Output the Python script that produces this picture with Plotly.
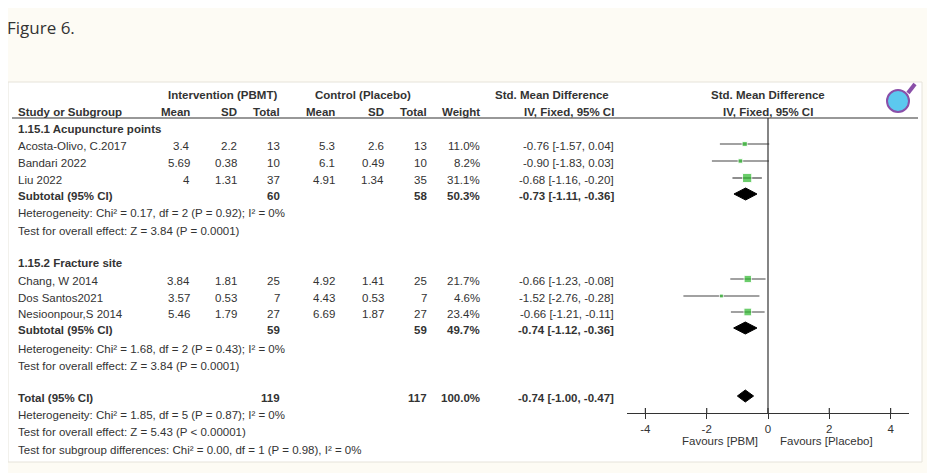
import plotly.graph_objects as go

W, H = 935, 473
OX, OY = 8, 8  # page body offset in the browser

# study rows
names = ["Acosta-Olivo, C.2017", "Bandari 2022", "Liu 2022",
         "Chang, W 2014", "Dos Santos2021", "Nesioonpour,S 2014"]
int_mean = ["3.4", "5.69", "4", "3.84", "3.57", "5.46"]
int_sd = ["2.2", "0.38", "1.31", "1.81", "0.53", "1.79"]
int_n = ["13", "10", "37", "25", "7", "27"]
ctl_mean = ["5.3", "6.1", "4.91", "4.92", "4.43", "6.69"]
ctl_sd = ["2.6", "0.49", "1.34", "1.41", "0.53", "1.87"]
ctl_n = ["13", "10", "35", "25", "7", "27"]
weight = [11.0, 8.2, 31.1, 21.7, 4.6, 23.4]
smd = [-0.76, -0.90, -0.68, -0.66, -1.52, -0.66]
lo = [-1.57, -1.83, -1.16, -1.23, -2.76, -1.21]
hi = [0.04, 0.03, -0.20, -0.08, -0.28, -0.11]
study_y = [146, 163, 180, 281, 298, 314]

# pooled rows
pool_lab = ["Subtotal (95% CI)", "Subtotal (95% CI)", "Total (95% CI)"]
pool_int_n = ["60", "59", "119"]
pool_ctl_n = ["58", "59", "117"]
pool_w = ["50.3%", "49.7%", "100.0%"]
pool_smd = [-0.73, -0.74, -0.74]
pool_lo = [-1.11, -1.12, -1.00]
pool_hi = [-0.36, -0.36, -0.47]
pool_y = [196, 330, 398]

notes = [
    ("<b>1.15.1 Acupuncture points</b>", 129),
    ("Heterogeneity: Chi² = 0.17, df = 2 (P = 0.92); I² = 0%", 213),
    ("Test for overall effect: Z = 3.84 (P = 0.0001)", 231),
    ("<b>1.15.2 Fracture site</b>", 263),
    ("Heterogeneity: Chi² = 1.68, df = 2 (P = 0.43); I² = 0%", 349),
    ("Test for overall effect: Z = 3.84 (P = 0.0001)", 366),
    ("Heterogeneity: Chi² = 1.85, df = 5 (P = 0.87); I² = 0%", 415),
    ("Test for overall effect: Z = 5.43 (P < 0.00001)", 432),
    ("Test for subgroup differences: Chi² = 0.00, df = 1 (P = 0.98), I² = 0%", 450),
]
ticks = [-4, -2, 0, 2, 4]
tick_text = ["-4", "-2", "0", "2", "4"]

FONT = "Liberation Sans, Arial"
TXT = "#333"


def px(x):
    return (x - OX) / W


def py(y):
    return 1 - (y - OY) / H


fig = go.Figure()
ann = []


def txt(x, y, s, anchor="left", size=11.5, color=TXT):
    ann.append(dict(x=px(x), y=py(y), xref="paper", yref="paper", text=s, showarrow=False,
                    xanchor=anchor, yanchor="middle",
                    font=dict(family=FONT, size=size, color=color)))


txt(222, 95, "<b>Intervention (PBMT)</b>", "center")
txt(363, 95, "<b>Control (Placebo)</b>", "center")
txt(552, 95, "<b>Std. Mean Difference</b>", "center")
txt(768, 95, "<b>Std. Mean Difference</b>", "center")
txt(16, 112, "<b>Study or Subgroup</b>")
cols = [192, 239, 282, 337, 386, 429, 482, 616]
for x, h in zip(cols, ["Mean", "SD", "Total", "Mean", "SD", "Total", "Weight", "IV, Fixed, 95% CI"]):
    txt(x, 112, "<b>%s</b>" % h, "right")
txt(768, 112, "<b>IV, Fixed, 95% CI</b>", "center")

for i, n in enumerate(names):
    y = study_y[i]
    txt(16, y, n)
    vals = [int_mean[i], int_sd[i], int_n[i], ctl_mean[i], ctl_sd[i], ctl_n[i],
            "%.1f%%" % weight[i], "%.2f [%.2f, %.2f]" % (smd[i], lo[i], hi[i])]
    for x, v in zip(cols, vals):
        txt(x, y, v, "right")

for i in range(3):
    y = pool_y[i]
    txt(16, y, "<b>%s</b>" % pool_lab[i])
    txt(cols[2], y, "<b>%s</b>" % pool_int_n[i], "right")
    txt(cols[5], y, "<b>%s</b>" % pool_ctl_n[i], "right")
    txt(cols[6], y, "<b>%s</b>" % pool_w[i], "right")
    txt(cols[7], y, "<b>%.2f [%.2f, %.2f]</b>" % (pool_smd[i], pool_lo[i], pool_hi[i]), "right")

for s, y in notes:
    txt(16, y, s)

txt(720, 441, "Favours [PBM]", "center")
txt(826, 441, "Favours [Placebo]", "center")
txt(5, 27, "Figure 6.", size=17, color="#333")
ann[-1]["font"]["family"] = "Open Sans"

# CI lines and squares
for i in range(len(names)):
    fig.add_trace(go.Scatter(x=[lo[i], hi[i]], y=[study_y[i] - 2] * 2, mode="lines",
                             line=dict(color="#444", width=1.2), hoverinfo="skip"))
fig.add_trace(go.Scatter(x=smd, y=[y - 2 for y in study_y], mode="markers",
                         marker=dict(symbol="square", color="#2db82d",
                                     size=[3 + w / 5 for w in weight]),
                         hoverinfo="skip"))
for i in range(3):
    yc = pool_y[i] - 2
    fig.add_trace(go.Scatter(x=[pool_lo[i], pool_smd[i], pool_hi[i], pool_smd[i], pool_lo[i]],
                             y=[yc, yc - 6, yc, yc + 6, yc], mode="lines", fill="toself",
                             fillcolor="black", line=dict(color="black", width=1),
                             hoverinfo="skip"))
fig.add_trace(go.Scatter(x=[0, 0], y=[118, 413], mode="lines",
                         line=dict(color="#333", width=1.2), hoverinfo="skip"))
# ticks crossing the axis line
for t in ticks:
    fig.add_trace(go.Scatter(x=[t, t], y=[408, 413], mode="lines",
                             line=dict(color="#333", width=1.2), hoverinfo="skip"))

shapes = [
    dict(type="rect", xref="paper", yref="paper", x0=px(8), x1=px(922),
         y0=py(462), y1=py(82), line=dict(color="#e6e3da", width=1), fillcolor="white",
         layer="below"),
    dict(type="line", xref="paper", yref="paper", x0=px(12), x1=px(918), y0=py(118), y1=py(118),
         line=dict(color="#333", width=1.2)),
    dict(type="line", xref="paper", yref="paper", x0=px(908), x1=px(915), y0=py(93), y1=py(84),
         line=dict(color="#8a4fa8", width=4)),
    dict(type="circle", xref="paper", yref="paper", x0=px(887), x1=px(909),
         y0=py(112), y1=py(90), fillcolor="#5cc8ef", line=dict(color="#8a4fa8", width=2)),
]

fig.update_layout(
    width=W, height=H, margin=dict(l=0, r=0, t=0, b=0),
    paper_bgcolor="#fdfbf4", plot_bgcolor="rgba(0,0,0,0)", showlegend=False,
    annotations=ann, shapes=shapes,
    xaxis=dict(range=[-4.6, 4.6], domain=[px(627), px(909)], tickvals=ticks, ticktext=tick_text,
               anchor="free", position=py(413),
               showgrid=False, zeroline=False, showline=True, linecolor="#333",
               linewidth=1.2, ticks="outside", ticklen=5, tickcolor="#333",
               tickfont=dict(family=FONT, size=11.5, color=TXT)),
    yaxis=dict(range=[OY + H, OY], domain=[0, 1], visible=False),
)
fig.write_html("out.html")
